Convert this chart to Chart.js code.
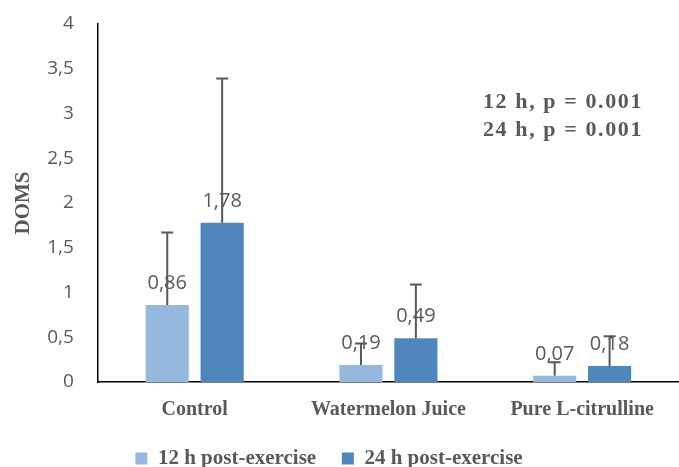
<!DOCTYPE html>
<html><head><meta charset="utf-8">
<script src="https://cdn.jsdelivr.net/npm/chart.js@4/dist/chart.umd.min.js"></script>
<style>html,body{margin:0;padding:0;background:#fff}#w{width:679px;height:467px}</style>
</head><body><div id="w"><canvas id="c" width="679" height="467"></canvas></div>
<script>
const categories = ["Control", "Watermelon Juice", "Pure L-citrulline"];
const seriesNames = ["12 h post-exercise", "24 h post-exercise"];
const values12h = [0.86, 0.19, 0.07];
const values24h = [1.78, 0.49, 0.18];
const errTop12h = [1.67, 0.43, 0.22];
const errTop24h = [3.39, 1.09, 0.51];
const annotationLines = ["12 h, p = 0.001", "24 h, p = 0.001"];

const serif = "'Liberation Serif', 'DejaVu Serif', serif";
const sans = "'Open Sans', 'Liberation Sans', sans-serif";
const grey = "#595959";

const errPlugin = {
  id: 'errs',
  afterDatasetsDraw(chart) {
    const ctx = chart.ctx;
    const y = chart.scales.y;
    const tops = [errTop12h, errTop24h];
    chart.data.datasets.forEach((ds, di) => {
      const meta = chart.getDatasetMeta(di);
      meta.data.forEach((bar, i) => {
        const x = bar.x;
        const yt = y.getPixelForValue(tops[di][i]);
        const yb = bar.y;
        ctx.save();
        ctx.font = "20px " + sans;
        ctx.fillStyle = grey;
        ctx.textAlign = 'center';
        ctx.textBaseline = 'alphabetic';
        ctx.fillText(ds.data[i].toFixed(2).replace('.', ','), x, yb - 16);
        ctx.restore();
        ctx.save();
        ctx.strokeStyle = '#595959';
        ctx.lineWidth = 2;
        ctx.beginPath();
        ctx.moveTo(x, yb); ctx.lineTo(x, yt);
        ctx.moveTo(x - 6, yt); ctx.lineTo(x + 6, yt);
        ctx.stroke();
        ctx.restore();
      });
    });
    ctx.save();
    ctx.font = "bold 22px " + serif;
    ctx.fillStyle = grey;
    ctx.textAlign = 'left';
    ctx.textBaseline = 'middle';
    try { ctx.letterSpacing = '1.6px'; } catch (e) {}
    ctx.fillText(annotationLines[0], 483, 102);
    ctx.fillText(annotationLines[1], 483, 130);
    ctx.restore();
  }
};

new Chart(document.getElementById('c'), {
  type: 'bar',
  data: {
    labels: categories,
    datasets: [
      { label: seriesNames[0], data: values12h, backgroundColor: '#95B8DF' },
      { label: seriesNames[1], data: values24h, backgroundColor: '#4F87BC' }
    ]
  },
  options: {
    responsive: false,
    animation: false,
    devicePixelRatio: 1,
    categoryPercentage: 0.567,
    barPercentage: 0.786,
    layout: { padding: { top: 0, right: -10, left: 11, bottom: -12 } },
    plugins: {
      tooltip: { enabled: false },
      legend: {
        position: 'bottom',
        labels: {
          boxWidth: 12, boxHeight: 12, padding: 10,
          font: { family: serif, size: 21, weight: 'bold' },
          color: grey,
          generateLabels(chart) {
            return chart.data.datasets.map((ds, i) => ({
              text: ds.label + (i === 0 ? '   ' : '        '),
              fillStyle: ds.backgroundColor,
              strokeStyle: ds.backgroundColor,
              lineWidth: 0,
              fontColor: grey,
              hidden: false,
              datasetIndex: i
            }));
          }
        }
      }
    },
    scales: {
      x: {
        grid: { display: false, drawTicks: false },
        border: { color: '#000', width: 1.5 },
        ticks: { color: grey, font: { family: serif, size: 20, weight: 'bold' }, padding: 16 }
      },
      y: {
        min: 0, max: 4,
        grid: { display: false, drawTicks: false },
        border: { color: '#000', width: 1.5 },
        afterFit(scale) { scale.paddingTop = 24; },
        ticks: {
          stepSize: 0.5, color: grey, padding: 24,
          font: { family: sans, size: 19 },
          callback: v => String(v).replace('.', ',')
        },
        title: { display: true, text: 'DOMS', color: grey, font: { family: serif, size: 21, weight: 'bold' }, padding: { top: 0, bottom: -13 } }
      }
    }
  },
  plugins: [errPlugin]
});
</script></body></html>
